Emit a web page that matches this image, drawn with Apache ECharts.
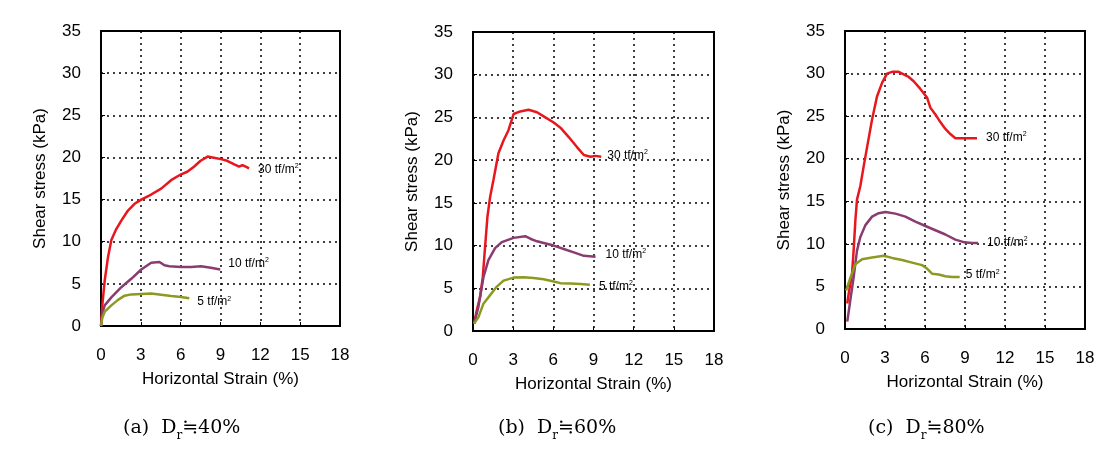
<!DOCTYPE html>
<html>
<head>
<meta charset="utf-8">
<script src="https://cdn.jsdelivr.net/npm/echarts@6/dist/echarts.min.js"></script>
<style>
html,body{margin:0;padding:0;background:#fff;}
#chart{width:1117px;height:457px;}
</style>
</head>
<body>
<div id="chart"></div>
<script>
// ---- data (strain %, shear stress kPa) ----
var a30 = [[0,0],[0.1,2.5],[0.28,5.4],[0.53,8.2],[0.78,10.2],[1.15,11.5],[1.53,12.5],[2.03,13.7],[2.53,14.5],[3.03,15.0],[3.78,15.6],[4.53,16.3],[5.28,17.3],[6.03,18.0],[6.5,18.3],[7.0,18.9],[7.5,19.6],[8.03,20.1],[8.4,20.0],[9.03,19.8],[9.5,19.6],[10.0,19.2],[10.4,18.9],[10.65,19.1],[10.9,18.9],[11.15,18.7]];
var a10 = [[0,0],[0.1,1.5],[0.28,2.45],[0.78,3.4],[1.53,4.6],[2.28,5.6],[3.03,6.7],[3.78,7.5],[4.4,7.6],[4.78,7.2],[5.15,7.1],[6.03,7.0],[6.78,7.0],[7.53,7.1],[8.28,6.9],[8.98,6.7]];
var a5  = [[0,0],[0.1,1.0],[0.28,1.7],[0.78,2.45],[1.28,3.1],[1.78,3.6],[2.28,3.75],[3.03,3.8],[3.78,3.85],[4.53,3.7],[5.28,3.55],[6.03,3.45],[6.65,3.3]];

var b30 = [[0.08,0.86],[0.28,2.4],[0.53,4.0],[0.73,6.3],[0.9,9.8],[1.08,13.4],[1.28,15.7],[1.53,17.7],[1.9,20.8],[2.28,22.3],[2.65,23.5],[3.03,25.4],[3.53,25.7],[4.15,25.9],[4.78,25.6],[5.4,25.0],[6.03,24.4],[6.53,23.8],[7.15,22.7],[7.78,21.5],[8.28,20.6],[8.78,20.4],[9.15,20.5],[9.58,20.4]];
var b10 = [[0.08,0.86],[0.4,2.8],[0.78,6.3],[1.15,8.3],[1.65,9.7],[2.15,10.4],[3.03,10.9],[3.9,11.1],[4.28,10.8],[4.78,10.5],[5.28,10.3],[6.03,10.0],[6.78,9.6],[7.53,9.2],[8.28,8.8],[9.15,8.7]];
var b5  = [[0.08,0.86],[0.4,1.6],[0.78,3.2],[1.28,4.2],[1.78,5.2],[2.28,5.9],[3.03,6.25],[3.78,6.3],[4.53,6.2],[5.28,6.05],[6.03,5.8],[6.53,5.6],[7.28,5.55],[8.03,5.5],[8.73,5.4]];

var c30 = [[0.17,3.0],[0.28,4.2],[0.53,6.5],[0.65,9.3],[0.78,12.8],[0.9,15.2],[1.15,16.8],[1.4,19.1],[1.65,21.3],[2.03,24.6],[2.4,27.3],[2.78,28.9],[3.15,30.0],[3.53,30.2],[4.03,30.2],[4.4,29.9],[4.78,29.6],[5.15,29.1],[5.65,28.2],[6.15,27.2],[6.4,26.0],[6.78,25.2],[7.15,24.3],[7.53,23.5],[7.9,22.9],[8.28,22.4],[9.03,22.4],[9.9,22.4]];
var c10 = [[0.17,0.86],[0.4,3.4],[0.65,6.1],[0.9,9.2],[1.15,10.8],[1.53,12.2],[2.03,13.2],[2.53,13.6],[3.03,13.75],[3.78,13.55],[4.53,13.2],[5.28,12.6],[6.03,12.1],[6.78,11.6],[7.53,11.1],[8.28,10.5],[8.9,10.2],[9.53,10.1],[9.98,10.1]];
var c5  = [[0.08,4.5],[0.4,6.0],[0.78,7.6],[1.28,8.2],[2.03,8.4],[2.9,8.6],[3.53,8.35],[4.28,8.1],[5.03,7.8],[5.78,7.5],[6.15,7.1],[6.53,6.5],[7.03,6.4],[7.53,6.2],[8.03,6.1],[8.6,6.1]];

var xTicks = [0,3,6,9,12,15,18];
var yTicks = [0,5,10,15,20,25,30,35];
var loadLabels = ['30', '10', '5'];
var panelTags = ['(a)', '(b)', '(c)'];
var drValues = ['40%', '60%', '80%'];
var xName = 'Horizontal Strain (%)';
var yName = 'Shear stress (kPa)';

// ---- layout/style ----
var grids = [
  {left:101, top:31, width:239, height:295},
  {left:473, top:32, width:241, height:299},
  {left:845, top:31, width:240, height:298}
];
var colors = ['#e8161d', '#8a3c70', '#8c9a22'];
var panelData = [[a30,a10,a5],[b30,b10,b5],[c30,c10,c5]];
var labelOffsets = [
  [[4,1],[3,-6],[3,4]],
  [[1,-1],[5,-2],[4,2]],
  [[4,-1],[4,0],[1,-2]]
];
var captionLeft = [123, 498, 868];

var sansFont = 'Liberation Sans, Arial';
var dotted = {color:'#000', width:1.5, type:[2,4]};
var option = {
  animation:false,
  backgroundColor:'#fff',
  grid: grids.map(function(g){ return Object.assign({show:true, borderColor:'#000', borderWidth:2, backgroundColor:'transparent', containLabel:false}, g); }),
  xAxis: grids.map(function(g,i){ return {
    type:'value', gridIndex:i, min:xTicks[0], max:xTicks[xTicks.length-1], interval:xTicks[1]-xTicks[0],
    name:xName, nameLocation:'middle', nameGap:45,
    nameTextStyle:{fontFamily:sansFont, fontSize:17, color:'#000'},
    axisLine:{show:true, lineStyle:{color:'#000', width:2}},
    axisTick:{show:true, inside:true, length:4, lineStyle:{color:'#000'}},
    axisLabel:{fontFamily:sansFont, fontSize:17, color:'#000', margin:21},
    splitLine:{show:true, lineStyle:dotted}
  };}),
  yAxis: grids.map(function(g,i){ return {
    type:'value', gridIndex:i, min:yTicks[0], max:yTicks[yTicks.length-1], interval:yTicks[1]-yTicks[0],
    name:yName, nameLocation:'middle', nameGap:52,
    nameTextStyle:{fontFamily:sansFont, fontSize:17, color:'#000'},
    axisLine:{show:true, lineStyle:{color:'#000', width:2}},
    axisTick:{show:true, inside:true, length:4, lineStyle:{color:'#000'}},
    axisLabel:{fontFamily:sansFont, fontSize:17, color:'#000', margin:20},
    splitLine:{show:true, lineStyle:dotted}
  };}),
  series: [],
  graphic: []
};

panelData.forEach(function(sets, p){
  sets.forEach(function(d, k){
    option.series.push({
      type:'line', xAxisIndex:p, yAxisIndex:p, data:d,
      showSymbol:false, symbol:'none', smooth:false,
      lineStyle:{color:colors[k], width:2.5},
      itemStyle:{color:colors[k]},
      z:5,
      endLabel:{
        show:true, distance:5, offset:labelOffsets[p][k],
        formatter:'{n|' + loadLabels[k] + ' tf/m}{s|2}',
        rich:{
          n:{fontFamily:sansFont, fontSize:12, color:'#000', lineHeight:14, verticalAlign:'middle'},
          s:{fontFamily:sansFont, fontSize:7, color:'#000', lineHeight:14, verticalAlign:'top'}
        }
      }
    });
  });
  option.graphic.push({
    type:'text', left:captionLeft[p], top:419,
    style:{
      text:'{p|' + panelTags[p] + '  D}{sub|r}{p|≒' + drValues[p] + '}',
      rich:{
        p:{fontFamily:"'DejaVu Serif', 'Noto Sans CJK KR', serif", fontSize:19, fill:'#000', lineHeight:26, verticalAlign:'middle'},
        sub:{fontFamily:"'DejaVu Serif', serif", fontSize:12, fill:'#000', lineHeight:26, verticalAlign:'bottom'}
      }
    }
  });
});

var chart = echarts.init(document.getElementById('chart'), null, {renderer:'canvas'});
chart.setOption(option);
</script>
</body>
</html>
